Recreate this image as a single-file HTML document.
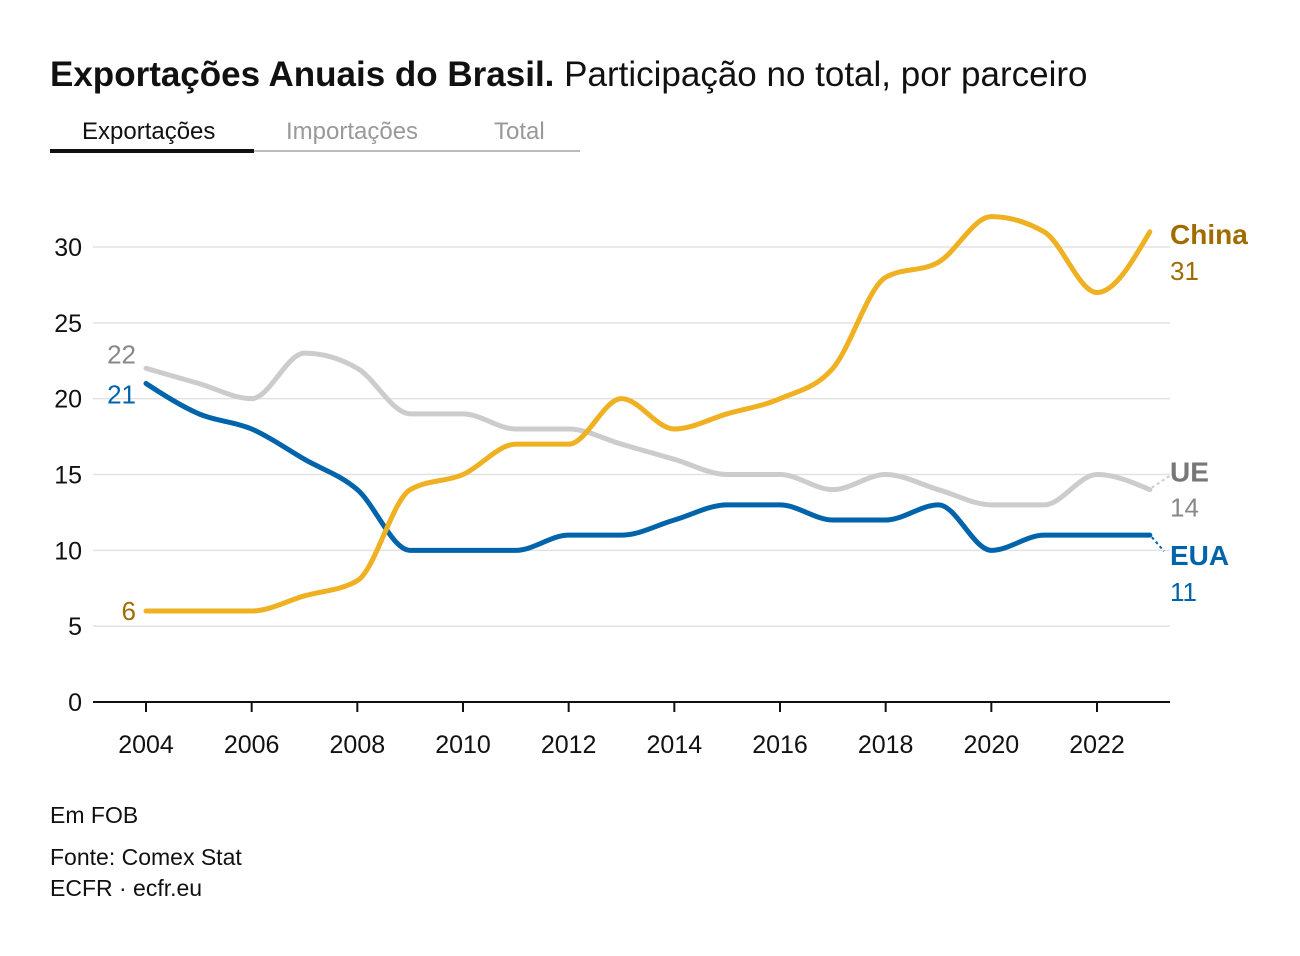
<!DOCTYPE html>
<html><head><meta charset="utf-8">
<style>
body{margin:0;background:#fff;font-family:"Liberation Sans",sans-serif;}
#wrap{position:relative;width:1300px;height:956px;overflow:hidden;}
.t{position:absolute;white-space:nowrap;}
</style></head><body>
<div id="wrap">
<div class="t" style="left:50px;top:55px;font-size:35px;color:#111;"><b>Exportações Anuais do Brasil.</b> Participação no total, por parceiro</div>
<div class="t" style="left:82px;top:118px;font-size:24px;color:#111;">Exportações</div>
<div class="t" style="left:286px;top:118px;font-size:24px;color:#999;">Importações</div>
<div class="t" style="left:494px;top:118px;font-size:24px;color:#999;">Total</div>
<div style="position:absolute;left:50px;top:150px;width:530px;height:2px;background:#bbb;"></div>
<div style="position:absolute;left:50px;top:149px;width:204px;height:4px;background:#111;"></div>
<svg id="chart" width="1300" height="956" style="position:absolute;left:0;top:0;"></svg>
<div class="t" style="left:50px;top:802px;font-size:23px;color:#111;">Em FOB</div>
<div class="t" style="left:50px;top:844px;font-size:23px;color:#111;">Fonte: Comex Stat</div>
<div class="t" style="left:50px;top:875px;font-size:23px;color:#111;">ECFR · ecfr.eu</div>
</div>
<script>
const years=[2004,2005,2006,2007,2008,2009,2010,2011,2012,2013,2014,2015,2016,2017,2018,2019,2020,2021,2022,2023];
const china=[6,6,6,7,8,14,15,17,17,20,18,19,20,22,28,29,32,31,27,31];
const ue=[22,21,20,23,22,19,19,18,18,17,16,15,15,14,15,14,13,13,15,14];
const eua=[21,19,18,16,14,10,10,10,11,11,12,13,13,12,12,13,10,11,11,11];
const yTicks=[0,5,10,15,20,25,30];
const xTicks=[2004,2006,2008,2010,2012,2014,2016,2018,2020,2022];
const NS="http://www.w3.org/2000/svg";
const svg=document.getElementById('chart');
const x=v=>146+(v-2004)*(1097-146)/18;
const y=v=>702-v*(702-247)/30;
function el(t,a,p){const e=document.createElementNS(NS,t);for(const k in a)e.setAttribute(k,a[k]);(p||svg).appendChild(e);return e;}
yTicks.forEach(t=>{
 if(t>0){const g=el('line',{x1:93,x2:1170,y1:y(t),y2:y(t),stroke:'#e2e2e2','stroke-width':1.5});
 
 }
 const tx=el('text',{x:82,y:y(t)+9,'text-anchor':'end','font-size':25,fill:'#111','font-family':'Liberation Sans, sans-serif'});
 tx.textContent=t;
 
 
});
const ax=el('line',{x1:93,x2:1170,y1:y(0),y2:y(0),stroke:'#111','stroke-width':2});


xTicks.forEach(t=>{
 const tk=el('line',{x1:x(t),x2:x(t),y1:y(0),y2:y(0)+10,stroke:'#111','stroke-width':2});
 
 
 const tx=el('text',{x:x(t),y:y(0)+51,'text-anchor':'middle','font-size':25,fill:'#111','font-family':'Liberation Sans, sans-serif'});
 tx.textContent=t;
 
 
});
function monotone(xs,ys){
 const n=xs.length,d=[],m=[];
 for(let i=0;i<n-1;i++)d.push((ys[i+1]-ys[i])/(xs[i+1]-xs[i]));
 for(let i=0;i<n;i++){
  if(i==0)m.push(d[0]);else if(i==n-1)m.push(d[n-2]);
  else{const a=d[i-1],b=d[i];if(a*b<=0)m.push(0);else{const h0=xs[i]-xs[i-1],h1=xs[i+1]-xs[i];const p=(a*h1+b*h0)/(h0+h1);m.push((Math.sign(a)+Math.sign(b))*Math.min(Math.abs(a),Math.abs(b),0.5*Math.abs(p)));}}
 }
 if(n>2){m[0]=(3*d[0]-m[1])/2;m[n-1]=(3*d[n-2]-m[n-2])/2;}
 let s='M'+xs[0]+','+ys[0];
 for(let i=0;i<n-1;i++){const h=(xs[i+1]-xs[i])/3;
  s+=' C'+(xs[i]+h)+','+(ys[i]+h*m[i])+' '+(xs[i+1]-h)+','+(ys[i+1]-h*m[i+1])+' '+xs[i+1]+','+ys[i+1];}
 return s;
}
function series(vals,col,name){
 const p=el('path',{d:monotone(years.map(x),vals.map(y)),fill:'none',stroke:col,'stroke-width':5,'stroke-linejoin':'round','stroke-linecap':'round'});
 
 
}
series(ue,'#cccccc','ue');
series(eua,'#0064ab','eua');
series(china,'#efb021','china');
function label(tx,xx,yy,col,anchor,bold,name,size){
 const t=el('text',{x:xx,y:yy,'text-anchor':anchor,'font-size':size||26,fill:col,'font-weight':bold?'bold':'normal','font-family':'Liberation Sans, sans-serif'});
 t.textContent=tx;
 
 
}
label(ue[0],136,y(ue[0])-5,'#888','end',false,'ue-start-value');
label(eua[0],136,y(eua[0])+20,'#0064ab','end',false,'eua-start-value');
label(china[0],136,y(china[0])+9,'#a06c00','end',false,'china-start-value');
const L=china.length-1,lx=1170;
label('China',lx,y(china[L])+12,'#a06c00','start',true,'china-label',28);
label(china[L],lx,y(china[L])+48,'#a06c00','start',false,'china-end-value');
label('UE',lx,y(ue[L])-8,'#777','start',true,'ue-label',28);
label(ue[L],lx,y(ue[L])+27,'#888','start',false,'ue-end-value');
label('EUA',lx,y(eua[L])+30,'#0064ab','start',true,'eua-label',28);
label(eua[L],lx,y(eua[L])+66,'#0064ab','start',false,'eua-end-value');
const c1=el('line',{x1:x(2023)+2,y1:y(ue[L])-2,x2:lx,y2:y(ue[L])-14,stroke:'#ccc','stroke-width':2,'stroke-dasharray':'3,3'});


const c2=el('line',{x1:x(2023)+2,y1:y(eua[L])+2,x2:lx-6,y2:y(eua[L])+16,stroke:'#0064ab','stroke-width':2,'stroke-dasharray':'3,3'});


</script>
</body></html>
